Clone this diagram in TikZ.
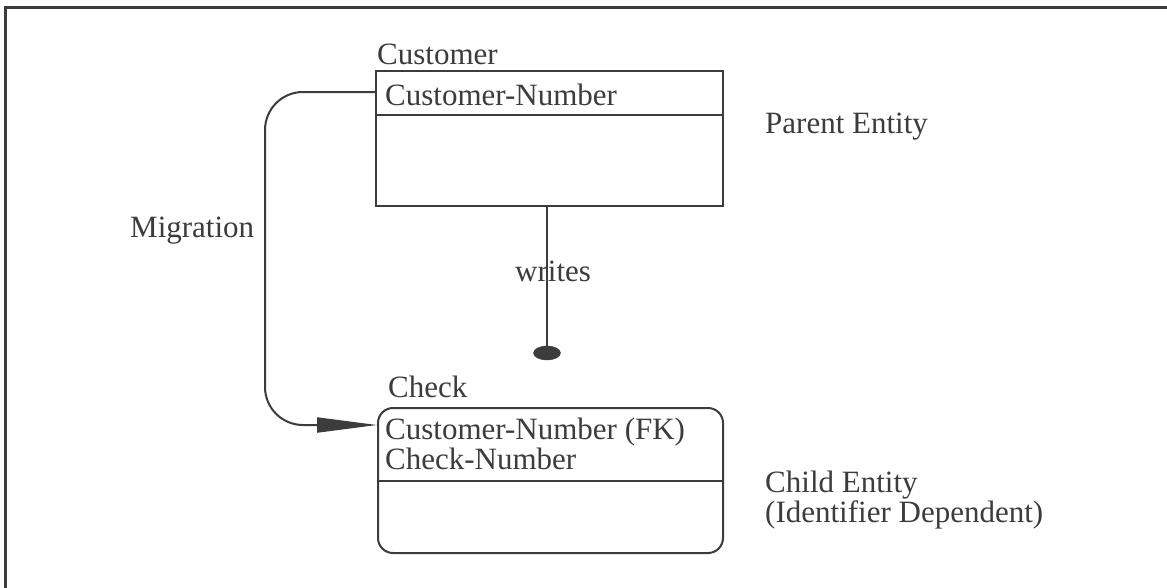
\documentclass[tikz,border=0pt]{standalone}
\usepackage{fontspec}
\setmainfont{Liberation Serif}
\usetikzlibrary{arrows.meta,shapes.geometric}
\definecolor{ink}{HTML}{3C3C3C}
\begin{document}
\begin{tikzpicture}[x=1pt,y=-1pt,
  lbl/.style={anchor=base west, inner sep=0pt, text=ink, font=\fontsize{31}{25}\selectfont},
  ent/.style={draw=ink, line width=2pt, rectangle, anchor=north west, inner sep=0pt},
  conn/.style={draw=ink, line width=2pt}]
\useasboundingbox (0,0) rectangle (1167,587);
\fill[white] (0,0) rectangle (1167,587);
\draw[ink, line width=3pt] (5,590) -- (5,7) -- (1170,7);

% entities
\node[ent, minimum width=347pt, minimum height=135pt] (cust) at (375,70) {};
\path (cust.north west) ++(0,45) coordinate (cdiv);
\draw[conn] (cdiv) -- (cdiv -| cust.east);

\node[ent, rounded corners=15pt, minimum width=345pt, minimum height=145pt] (chk) at (377,407) {};
\path (chk.north west) ++(0,74) coordinate (kdiv);
\draw[conn] (kdiv) -- (kdiv -| chk.east);

% texts
\node[lbl] (custname) at (377,64) {Customer};
\node[lbl] (custkey) at (385,105) {Customer-Number};
\node[lbl] (chkname) at (388,397) {Check};
\node[lbl, align=left] (chkkey) at (385,469) {Customer-Number (FK)\\Check-Number};
\node[lbl] (pe) at (765,133) {Parent Entity};
\node[lbl, align=left] (ce) at (765,522) {Child Entity\\(Identifier Dependent)};
\node[lbl] (mig) at (130,237) {Migration};
\node[lbl] (wr) at (515,281) {writes};

% relationship
\node[ellipse, fill=ink, draw=ink, minimum width=27pt, minimum height=14pt, inner sep=0pt] (dot) at (547,353) {};
\draw[conn] (dot.center |- cust.south) -- (dot.center);

% migration
\path (cust.north west) ++(0,22) coordinate (ms);
\path (chk.north west) ++(0,18) coordinate (me);
\draw[conn, rounded corners=38pt, -{Triangle[length=60pt,width=15pt,fill=ink]}] (ms) -- ++(-110,0) |- (me);
\end{tikzpicture}
\end{document}
